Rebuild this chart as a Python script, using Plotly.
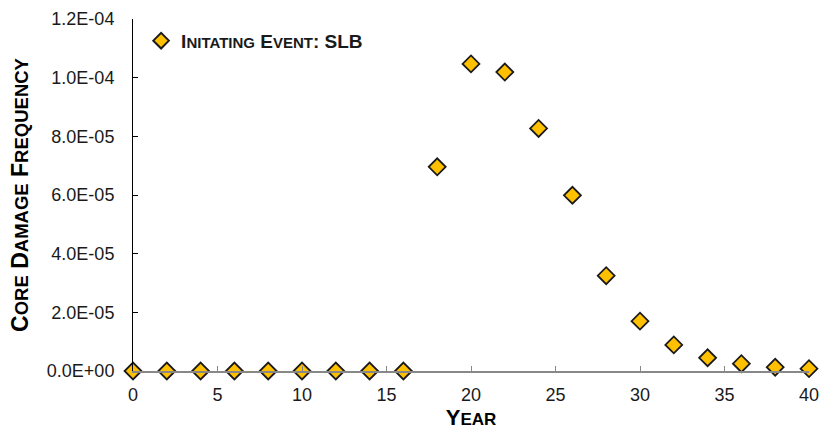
import plotly.graph_objects as go

# Core damage frequency by plant year, initiating event: steam line break
years = [0, 2, 4, 6, 8, 10, 12, 14, 16, 18, 20, 22, 24, 26, 28, 30, 32, 34, 36, 38, 40]
cdf = [0, 0, 0, 0, 0, 0, 0, 0, 0,
       6.96e-5, 1.047e-4, 1.019e-4, 8.27e-5, 5.99e-5, 3.25e-5, 1.70e-5,
       8.9e-6, 4.5e-6, 2.5e-6, 1.3e-6, 0.8e-6]

y_tickvals = [0, 2e-5, 4e-5, 6e-5, 8e-5, 1e-4, 1.2e-4]
y_ticktext = ["0.0E+00", "2.0E-05", "4.0E-05", "6.0E-05", "8.0E-05", "1.0E-04", "1.2E-04"]
x_tickvals = [0, 5, 10, 15, 20, 25, 30, 35, 40]

FONT = "Arial, Liberation Sans, sans-serif"
INK = "#1a1a1a"

# bold small-caps labels
legend_name = ("<b>I<span style='font-size:15px'>NITATING</span> "
               "E<span style='font-size:15px'>VENT</span>: SLB</b>")
y_title = ("<b>C<span style='font-size:18.5px'>ORE</span> "
           "D<span style='font-size:18.5px'>AMAGE</span> "
           "F<span style='font-size:18.5px'>REQUENCY</span></b>")
x_title = "<b>Y<span style='font-size:17px'>EAR</span></b>"

fig = go.Figure()
fig.add_trace(go.Scatter(
    x=years, y=cdf, mode="markers", name=legend_name,
    marker=dict(symbol="diamond", size=13, color="#FFC000",
                line=dict(color=INK, width=1.8)),
    cliponaxis=False,
))

fig.update_layout(
    width=822, height=431,
    margin=dict(l=133, r=13, t=19, b=60),
    paper_bgcolor="white", plot_bgcolor="white",
    font=dict(family=FONT, color=INK, size=18),
    showlegend=True,
    legend=dict(x=0.012, y=0.992, xanchor="left", yanchor="top",
                bgcolor="rgba(0,0,0,0)", itemsizing="constant",
                font=dict(size=19, family=FONT, color=INK)),
    xaxis=dict(range=[0, 40], tickvals=x_tickvals, showgrid=False, zeroline=False,
               automargin=False,
               showline=True, linecolor="#888888", linewidth=2,
               ticks="inside", ticklen=5, tickcolor="#888888", tickwidth=1,
               ticklabelstandoff=6,
               tickfont=dict(size=18, color=INK),
               title=dict(text=x_title, font=dict(size=22, color="black"), standoff=5)),
    yaxis=dict(range=[0, 1.2e-4], tickvals=y_tickvals, ticktext=y_ticktext,
               showgrid=False, zeroline=False, automargin=False,
               showline=True, linecolor="black", linewidth=1,
               ticks="inside", ticklen=5, tickcolor="black", tickwidth=1,
               ticklabelstandoff=14,
               tickfont=dict(size=18, color=INK),
               title=dict(text=y_title, font=dict(size=23, color="black"), standoff=11)),
)

fig.write_html("out.html")
